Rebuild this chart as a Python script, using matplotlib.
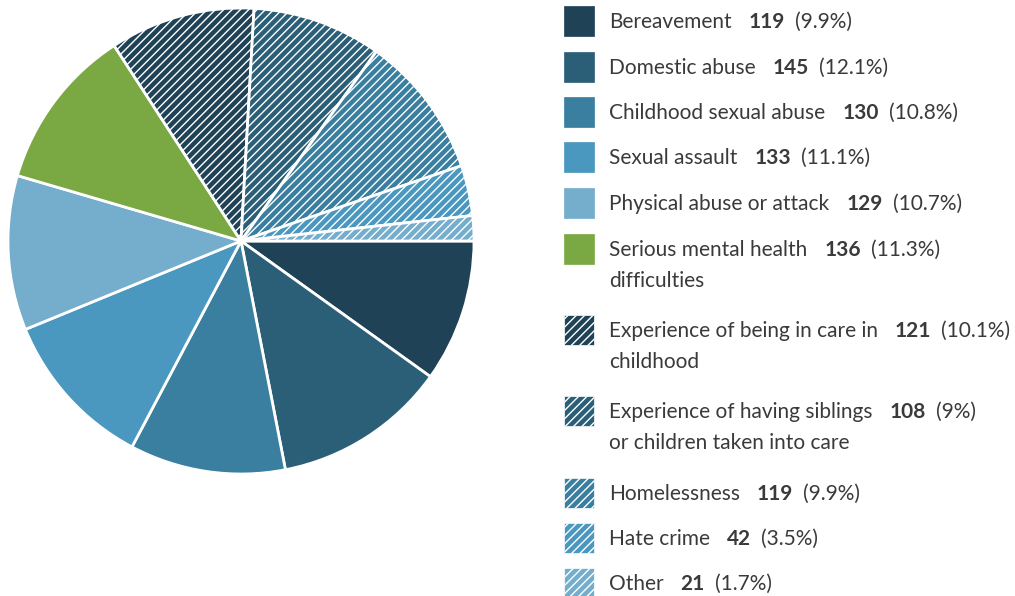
"""Pie chart of reported adverse experiences, with a hand-built legend."""

import matplotlib.pyplot as plt
from matplotlib.patches import Rectangle

labels = [
    "Bereavement",
    "Domestic abuse",
    "Childhood sexual abuse",
    "Sexual assault",
    "Physical abuse or attack",
    "Serious mental health\ndifficulties",
    "Experience of being in care in\nchildhood",
    "Experience of having siblings\nor children taken into care",
    "Homelessness",
    "Hate crime",
    "Other",
]
counts = [119, 145, 130, 133, 129, 136, 121, 108, 119, 42, 21]
colors = [
    "#1f4257", "#2b5f78", "#3a7fa0", "#4a97bf", "#75adcc", "#7aa843",
    "#1f4257", "#2b5f78", "#3a7fa0", "#4a97bf", "#75adcc",
]
hatched = [False] * 6 + [True] * 5

W, H = 1015, 596
plt.rcParams["font.family"] = ["Lato", "DejaVu Sans"]
plt.rcParams["hatch.color"] = "white"
plt.rcParams["hatch.linewidth"] = 1.0

fig = plt.figure(figsize=(W / 100, H / 100), dpi=100)

# pie: centre (241, 241) px, radius 233 px
cx, cy, r = 241, 241, 233
ax = fig.add_axes([(cx - r) / W, 1 - (cy + r) / H, 2 * r / W, 2 * r / H])
wedges, _ = ax.pie(
    counts, colors=colors, startangle=0, counterclock=False,
    wedgeprops=dict(edgecolor="white", linewidth=2, clip_on=False),
)
for w, h in zip(wedges, hatched):
    if h:
        w.set_hatch("////")
ax.set_xlim(-1, 1)
ax.set_ylim(-1, 1)
ax.set_aspect("equal")
ax.axis("off")

total = sum(counts)
row_y = [21, 67, 112, 157, 203, 249, 330, 411, 493, 538, 583]
text_color = "#3a3a3a"
fs = 15
renderer = fig.canvas.get_renderer()


def px(x, y):
    return x / W, 1 - y / H


def put(x, y, s, **kw):
    t = fig.text(*px(x, y), s, fontsize=fs, color=text_color, va="baseline", **kw)
    return t.get_window_extent(renderer).x1


for lab, n, col, h, y in zip(labels, counts, colors, hatched, row_y):
    patch = Rectangle(px(564, y + 15), 30 / W, 30 / H, transform=fig.transFigure,
                      facecolor=col, edgecolor="white" if h else col,
                      linewidth=0.5, hatch="////" if h else None)
    fig.add_artist(patch)
    lines = lab.split("\n")
    base = y + 7
    x_end = put(609, base, lines[0])
    x_end = put(x_end + 17, base, str(n), fontweight="bold")
    pct = f"{n / total * 100:.1f}".removesuffix(".0")
    put(x_end + 10, base, f"({pct}%)")
    if len(lines) > 1:
        put(609, base + 31, lines[1])

fig.savefig("out.png", dpi=100)
